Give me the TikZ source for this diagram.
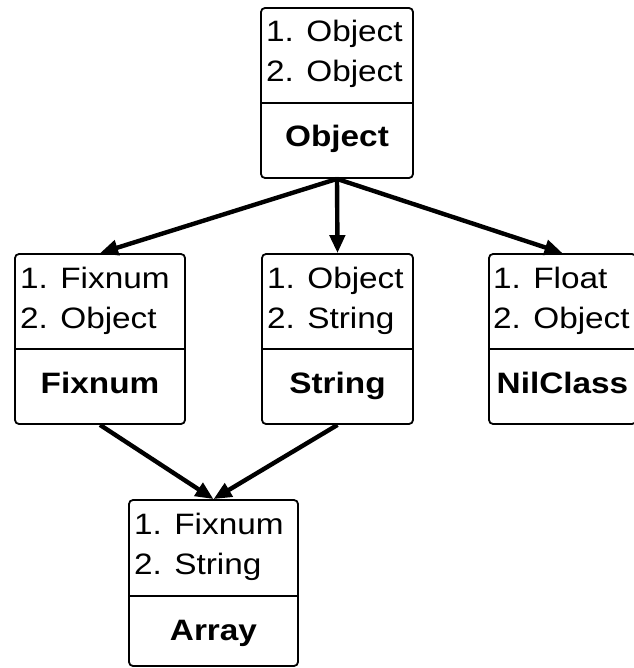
\documentclass[tikz,border=0pt]{standalone}
\usepackage{fontspec}
\usepackage{graphicx}
\setmainfont{Liberation Sans}
\usetikzlibrary{arrows.meta}
% class diagram text is set slightly widened
\newcommand\widetxt[1]{\scalebox{1.13}[1]{#1}}
\begin{document}
\begin{tikzpicture}[x=1pt,y=-1pt,
  classbox/.style={draw, line width=1.8pt, rounded corners=4pt, inner sep=0pt, minimum height=170pt},
  member/.style={anchor=base west, inner sep=0pt, font=\fontsize{29.5}{35}\selectfont},
  classname/.style={anchor=base, inner sep=0pt, font=\fontsize{29.5}{35}\selectfont\bfseries},
  divider/.style={line width=1.8pt},
  inherit/.style={line width=4.4pt, -{Triangle[length=18pt,width=15pt]}}
]
\useasboundingbox (0,0) rectangle (633,668);

% Object
\node[classbox, minimum width=152pt] (obj) at (337,93) {};
\draw[divider] (261,103) -- (413,103);
\node[member] (obj1) at (266,42) {\widetxt{1. Object}};
\node[member] (obj2) at (266,82) {\widetxt{2. Object}};
\node[classname] (objN) at (337,147) {\widetxt{Object}};

% Fixnum
\node[classbox, minimum width=170pt] (fix) at (100,339) {};
\draw[divider] (15,349) -- (185,349);
\node[member] (fix1) at (20,288) {\widetxt{1. Fixnum}};
\node[member] (fix2) at (20,328) {\widetxt{2. Object}};
\node[classname] (fixN) at (100,393) {\widetxt{Fixnum}};

% String
\node[classbox, minimum width=151pt] (str) at (337.5,339) {};
\draw[divider] (262,349) -- (413,349);
\node[member] (str1) at (267,288) {\widetxt{1. Object}};
\node[member] (str2) at (267,328) {\widetxt{2. String}};
\node[classname] (strN) at (337.5,393) {\widetxt{String}};

% NilClass
\node[classbox, minimum width=147pt] (nil) at (562.5,339) {};
\draw[divider] (489,349) -- (636,349);
\node[member] (nil1) at (493,288) {\widetxt{1. Float}};
\node[member] (nil2) at (493,328) {\widetxt{2. Object}};
\node[classname] (nilN) at (562.5,393) {\widetxt{NilClass}};

% Array
\node[classbox, minimum width=169pt, minimum height=166pt] (arr) at (213.5,583) {};
\draw[divider] (129,596) -- (298,596);
\node[member] (arr1) at (134,534) {\widetxt{1. Fixnum}};
\node[member] (arr2) at (134,574) {\widetxt{2. String}};
\node[classname] (arrN) at (213.5,640) {\widetxt{Array}};

% inheritance arrows
\draw[inherit] (obj.south) -- (fix.north);
\draw[inherit] (obj.south) -- (str.north);
\draw[inherit] (obj.south) -- (nil.north);
\draw[inherit] (fix.south) -- (arr.north);
\draw[inherit] (str.south) -- (arr.north);
\end{tikzpicture}
\end{document}
